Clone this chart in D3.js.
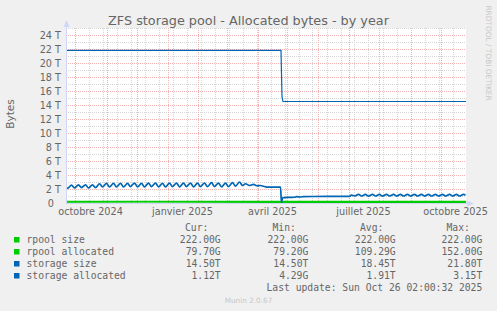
<!DOCTYPE html>
<html>
<head>
<script src="https://d3js.org/d3.v7.min.js"></script>
<title>ZFS storage pool - Allocated bytes - by year</title>
<style>
  body { margin: 0; background: #f0f0f0; }
  svg { display: block; }
  text { font-family: "DejaVu Sans", sans-serif; fill: #666666; }
  .mono { font-family: "DejaVu Sans Mono", monospace; font-size: 9.7px; }
</style>
</head>
<body>
<div id="chart"></div>
<script>
// time window of the graph (400 days)
const startDate = "2024-09-21T12:00:00Z";
const endDate = "2025-10-26T12:00:00Z";

// y axis ticks (in T)
const yTickValues = [0, 2, 4, 6, 8, 10, 12, 14, 16, 18, 20, 22, 24];
const yTickLabels = ["0", "2 T", "4 T", "6 T", "8 T", "10 T", "12 T", "14 T", "16 T", "18 T", "20 T", "22 T", "24 T"];

// x axis labels
const xLabelDates = ["2024-10-01", "2025-01-01", "2025-04-01", "2025-07-01", "2025-10-01"];
const xLabels = ["octobre 2024", "janvier 2025", "avril 2025", "juillet 2025", "octobre 2025"];

// series (values in T)
const rpoolSize = [["2024-09-21", 0.2168], ["2025-10-27", 0.2168]];
const rpoolAllocated = [["2024-09-21", 0.145], ["2024-12-15", 0.148], ["2025-02-15", 0.12], ["2025-04-20", 0.09], ["2025-06-20", 0.08], ["2025-10-27", 0.078]];
const storageSize = [["2024-09-21", 21.8], ["2025-04-24T12:00:00Z", 21.8], ["2025-04-25T12:00:00Z", 15.2], ["2025-04-26T12:00:00Z", 14.5], ["2025-10-27", 14.5]];
const storageAllocated = [
  ["2024-09-21", 2.3], ["2024-09-23", 2.1], ["2024-09-27", 2.55], ["2024-09-30", 2.15],
  ["2024-10-04", 2.6], ["2024-10-07", 2.2], ["2024-10-11", 2.6], ["2024-10-14", 2.15],
  ["2024-10-18", 2.6], ["2024-10-21", 2.2], ["2024-10-25", 2.75], ["2024-10-28", 2.3],
  ["2024-11-01", 2.8], ["2024-11-04", 2.3], ["2024-11-08", 2.8], ["2024-11-11", 2.3],
  ["2024-11-15", 2.8], ["2024-11-18", 2.3], ["2024-11-22", 2.8], ["2024-11-25", 2.35],
  ["2024-11-29", 2.85], ["2024-12-02", 2.3], ["2024-12-06", 2.8], ["2024-12-09", 2.3],
  ["2024-12-13", 2.85], ["2024-12-16", 2.35], ["2024-12-20", 2.85], ["2024-12-23", 2.3],
  ["2024-12-27", 2.8], ["2024-12-30", 2.3], ["2025-01-03", 2.85], ["2025-01-06", 2.35],
  ["2025-01-10", 2.85], ["2025-01-13", 2.3], ["2025-01-17", 2.85], ["2025-01-20", 2.35],
  ["2025-01-24", 2.85], ["2025-01-27", 2.3], ["2025-01-31", 2.85], ["2025-02-03", 2.35],
  ["2025-02-07", 2.85], ["2025-02-10", 2.35], ["2025-02-14", 2.9], ["2025-02-17", 2.35],
  ["2025-02-21", 2.85], ["2025-02-24", 2.3], ["2025-02-28", 2.85], ["2025-03-03", 2.35],
  ["2025-03-07", 2.9], ["2025-03-10", 2.4], ["2025-03-14", 3.0], ["2025-03-17", 2.5],
  ["2025-03-20", 2.75], ["2025-03-24", 2.5], ["2025-03-28", 2.65], ["2025-04-01", 2.45],
  ["2025-04-04", 2.5], ["2025-04-07", 2.4], ["2025-04-10", 2.28], ["2025-04-24", 2.27],
  ["2025-04-25", 0.004],
  ["2025-04-26", 0.75], ["2025-05-03", 0.8], ["2025-05-08", 0.82], ["2025-05-10", 0.9],
  ["2025-05-14", 0.86], ["2025-05-17", 0.92], ["2025-07-02", 0.95], ["2025-07-04", 1.12],
  ["2025-07-07", 1.0], ["2025-07-11", 1.24], ["2025-07-14", 1.0], ["2025-07-18", 1.22],
  ["2025-07-21", 0.98], ["2025-07-25", 1.24], ["2025-07-28", 1.0], ["2025-08-01", 1.22],
  ["2025-08-04", 0.98], ["2025-08-08", 1.24], ["2025-08-11", 1.0], ["2025-08-15", 1.24],
  ["2025-08-18", 0.98], ["2025-08-22", 1.22], ["2025-08-25", 1.0], ["2025-08-29", 1.24],
  ["2025-09-01", 0.98], ["2025-09-05", 1.22], ["2025-09-08", 1.0], ["2025-09-12", 1.24],
  ["2025-09-15", 0.98], ["2025-09-19", 1.22], ["2025-09-22", 1.0], ["2025-09-26", 1.24],
  ["2025-09-29", 0.98], ["2025-10-03", 1.22], ["2025-10-06", 1.0], ["2025-10-10", 1.24],
  ["2025-10-13", 0.98], ["2025-10-17", 1.22], ["2025-10-20", 1.0], ["2025-10-24", 1.22],
  ["2025-10-26", 1.12]
];

// legend
const legendNames = ["rpool size", "rpool allocated", "storage size", "storage allocated"];
const legendColors = ["#00cc00", "#00cc00", "#0066b3", "#0066b3"];
const curVals = ["222.00G", "79.70G", "14.50T", "1.12T"];
const minVals = ["222.00G", "79.20G", "14.50T", "4.29G"];
const avgVals = ["222.00G", "109.29G", "18.45T", "1.91T"];
const maxVals = ["222.00G", "152.00G", "21.80T", "3.15T"];

const W = 497, H = 311;
const pLeft = 66, pRight = 466, pTop = 28, pBottom = 203;

const svg = d3.select("#chart").append("svg")
  .attr("width", W).attr("height", H);

svg.append("rect").attr("width", W).attr("height", H).attr("fill", "#f0f0f0");
svg.append("rect").attr("x", pLeft).attr("y", pTop)
  .attr("width", pRight - pLeft).attr("height", pBottom - pTop).attr("fill", "#ffffff");

const x = d3.scaleUtc()
  .domain([new Date(startDate), new Date(endDate)])
  .range([pLeft, pRight]);

const y = d3.scaleLinear()
  .domain([0, 25])
  .range([pBottom, pTop]);

// grid
const grid = svg.append("g").attr("shape-rendering", "crispEdges");
const minorColor = "#d6d6d6", majorColor = "#f2b2b2";

// minor vertical: every 2 weeks, on Mondays
const firstMinor = new Date("2024-09-30");
const minorDates = d3.range(0, 30).map(i => d3.utcDay.offset(firstMinor, 14 * i))
  .filter(d => d >= x.domain()[0] && d <= x.domain()[1]);
grid.selectAll(".vminor").data(minorDates).enter().append("line")
  .attr("x1", d => Math.round(x(d)) + 0.5).attr("x2", d => Math.round(x(d)) + 0.5)
  .attr("y1", pTop).attr("y2", pBottom)
  .attr("stroke", minorColor).attr("stroke-dasharray", "1,1");

// minor horizontal: every 1 T
grid.selectAll(".hminor").data(d3.range(1, 26)).enter().append("line")
  .attr("x1", pLeft).attr("x2", pRight)
  .attr("y1", d => Math.round(y(d)) + 0.5).attr("y2", d => Math.round(y(d)) + 0.5)
  .attr("stroke", minorColor).attr("stroke-dasharray", "1,1");

// major vertical: months
const monthDates = d3.utcMonth.range(x.domain()[0], x.domain()[1]);
grid.selectAll(".vmajor").data(monthDates).enter().append("line")
  .attr("x1", d => Math.round(x(d)) + 0.5).attr("x2", d => Math.round(x(d)) + 0.5)
  .attr("y1", pTop).attr("y2", pBottom)
  .attr("stroke", majorColor).attr("stroke-dasharray", "1,1");

// major horizontal: every 2 T
grid.selectAll(".hmajor").data(yTickValues.filter(v => v > 0)).enter().append("line")
  .attr("x1", pLeft).attr("x2", pRight)
  .attr("y1", d => Math.round(y(d)) + 0.5).attr("y2", d => Math.round(y(d)) + 0.5)
  .attr("stroke", majorColor).attr("stroke-dasharray", "1,1");

// series
svg.append("clipPath").attr("id", "plotclip")
  .append("rect").attr("x", pLeft).attr("y", pTop - 2)
  .attr("width", pRight - pLeft).attr("height", pBottom - pTop + 2);

const line = d3.line()
  .x(d => x(new Date(d[0])))
  .y(d => y(d[1]));

const plot = svg.append("g").attr("clip-path", "url(#plotclip)");

plot.append("path").datum(rpoolSize)
  .attr("d", line).attr("fill", "none").attr("stroke", "#00cc00").attr("stroke-width", 1.3);
plot.append("path").datum(rpoolAllocated)
  .attr("d", line).attr("fill", "none").attr("stroke", "#00cc00").attr("stroke-width", 1.3);
plot.append("path").datum(storageSize)
  .attr("d", line).attr("fill", "none").attr("stroke", "#0066b3").attr("stroke-width", 1.2);
plot.append("path").datum(storageAllocated)
  .attr("d", line.curve(d3.curveMonotoneX)).attr("fill", "none").attr("stroke", "#0066b3").attr("stroke-width", 1.7);

// axes lines and arrows
svg.append("line").attr("x1", pLeft + 0.5).attr("x2", pLeft + 0.5)
  .attr("y1", pBottom + 1).attr("y2", pTop - 4).attr("stroke", "#cfd6f8");
svg.append("line").attr("x1", pLeft).attr("x2", pRight + 4)
  .attr("y1", pBottom + 0.5).attr("y2", pBottom + 0.5).attr("stroke", "#cfd6f8");
svg.append("path").attr("d", `M${pLeft - 2.5},${pTop - 1}L${pLeft + 3.5},${pTop - 1}L${pLeft + 0.5},${pTop - 8}Z`)
  .attr("fill", "#cfd6f8");
svg.append("path").attr("d", `M${pRight + 1},${pBottom - 2.5}L${pRight + 1},${pBottom + 3.5}L${pRight + 8},${pBottom + 0.5}Z`)
  .attr("fill", "#cfd6f8");

// y tick labels
svg.selectAll(".ylab").data(yTickValues).enter().append("text")
  .attr("x", d => d === 0 ? 54 : 61)
  .attr("y", d => y(d) + 3.5)
  .attr("text-anchor", "end")
  .style("font-size", "9.7px")
  .text((d, i) => yTickLabels[i]);

// x labels, centred half a month after the month start
svg.selectAll(".xlab").data(xLabelDates).enter().append("text")
  .attr("x", d => x(d3.utcDay.offset(new Date(d), 15)))
  .attr("y", 214.5)
  .attr("text-anchor", "middle")
  .style("font-size", "9.7px")
  .text((d, i) => xLabels[i]);

// title
svg.append("text").attr("x", W / 2).attr("y", 24.5)
  .attr("text-anchor", "middle").style("font-size", "12.8px")
  .text("ZFS storage pool - Allocated bytes - by year");

// vertical unit label
svg.append("text").attr("transform", "translate(14,114) rotate(-90)")
  .attr("text-anchor", "middle").style("font-size", "10.5px")
  .text("Bytes");

// watermark
svg.append("text").attr("transform", "translate(486,53) rotate(90)")
  .attr("text-anchor", "middle").style("font-size", "7.4px").style("fill", "#c8c8c8")
  .text("RRDTOOL / TOBI OETIKER");

// legend
const lg = svg.append("g");
const headX = [185, 272.5, 360, 446.5];
["Cur:", "Min:", "Avg:", "Max:"].forEach((h, i) => {
  lg.append("text").attr("class", "mono").attr("x", headX[i]).attr("y", 230.5).text(h);
});
const colRight = [220.7, 308.3, 395.7, 482.3];
const cols = [curVals, minVals, avgVals, maxVals];
legendNames.forEach((name, r) => {
  const yy = 242.5 + 12 * r;
  lg.append("rect").attr("x", 14).attr("y", yy - 5.5).attr("width", 5.5).attr("height", 5.5)
    .attr("fill", legendColors[r]);
  lg.append("text").attr("class", "mono").attr("x", 26.5).attr("y", yy).text(name);
  cols.forEach((c, j) => {
    lg.append("text").attr("class", "mono").attr("x", colRight[j]).attr("y", yy)
      .attr("text-anchor", "end").text(c[r]);
  });
});
lg.append("text").attr("class", "mono").attr("x", 482.3).attr("y", 290.5)
  .attr("text-anchor", "end").text("Last update: Sun Oct 26 02:00:32 2025");

svg.append("text").attr("x", 248.5).attr("y", 302.5)
  .attr("text-anchor", "middle").style("font-size", "7.3px").style("fill", "#c8c8c8")
  .text("Munin 2.0.67");
</script>
</body>
</html>
